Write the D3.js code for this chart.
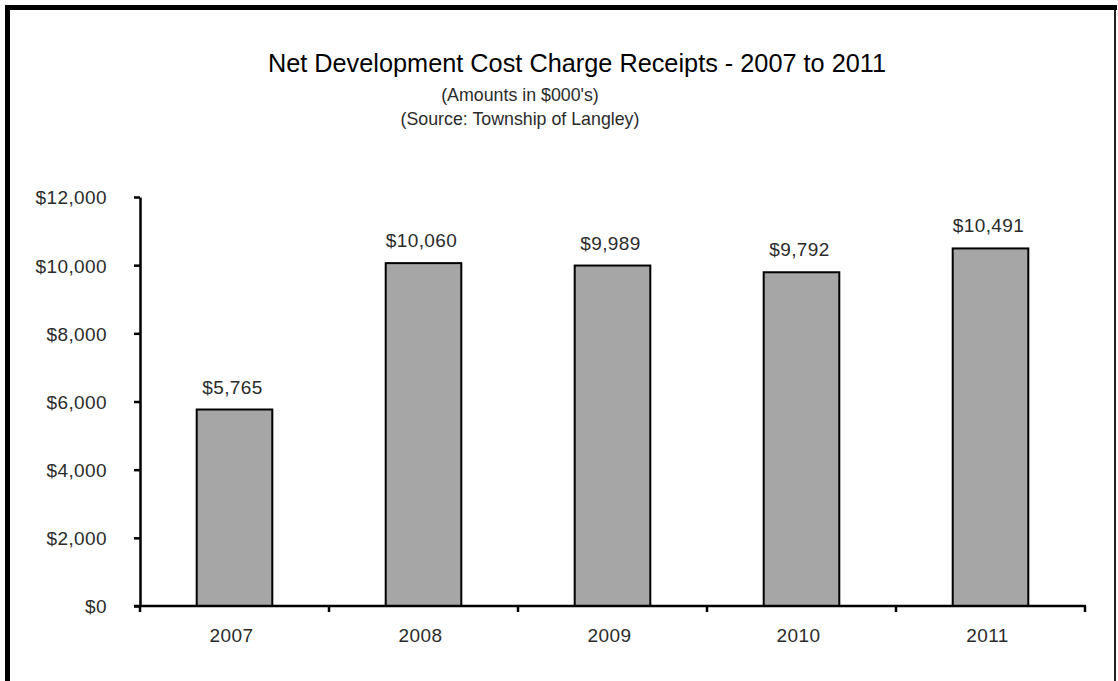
<!DOCTYPE html>
<html>
<head>
<meta charset="utf-8">
<script src="https://cdn.jsdelivr.net/npm/d3@7"></script>
<style>
  html, body { margin: 0; padding: 0; background: #fff; }
  svg { display: block; }
  .lbl { font-family: "Liberation Sans", Arial, sans-serif; fill: #2b2b2b; letter-spacing: 0.4px; }
</style>
</head>
<body>
<svg id="chart" width="1118" height="681"></svg>
<script>
// Net DCC receipts by year, in $000's
const years = ["2007", "2008", "2009", "2010", "2011"];
const receipts = [5765, 10060, 9989, 9792, 10491];
const yTicks = [0, 2000, 4000, 6000, 8000, 10000, 12000];

const titleText = "Net Development Cost Charge Receipts - 2007 to 2011";
const subtitleLines = ["(Amounts in $000's)", "(Source: Township of Langley)"];

const svg = d3.select("#chart");
const W = 1118, H = 681;

// frame: heavy top and left edges, thin right edge
const frame = svg.append("g");
frame.append("line")
  .attr("x1", 5).attr("x2", 1117).attr("y1", 7.5).attr("y2", 7.5)
  .attr("stroke", "#000").attr("stroke-width", 5);
frame.append("line")
  .attr("x1", 7.5).attr("x2", 7.5).attr("y1", 5).attr("y2", H)
  .attr("stroke", "#000").attr("stroke-width", 5);
frame.append("line")
  .attr("x1", 1115).attr("x2", 1115).attr("y1", 10).attr("y2", H)
  .attr("stroke", "#222").attr("stroke-width", 2);

const margin = { left: 140, right: 1085, top: 197, bottom: 606 };

const x = d3.scaleBand()
  .domain(years)
  .range([margin.left, margin.right])
  .paddingInner(0.6).paddingOuter(0.3);

const xOuter = d3.scaleBand()
  .domain(years)
  .range([margin.left, margin.right]);

const y = d3.scaleLinear()
  .domain([0, 12000])
  .range([margin.bottom, margin.top]);

const fmt = d => "$" + d3.format(",")(d);

// title block
svg.append("text")
  .attr("x", 577).attr("y", 72)
  .attr("text-anchor", "middle")
  .style("font-family", "'Liberation Sans', Arial, sans-serif")
  .style("font-size", "25.3px")
  .attr("fill", "#000")
  .text(titleText);

svg.selectAll("text.sub")
  .data(subtitleLines)
  .join("text")
  .attr("class", "sub lbl")
  .attr("x", 520)
  .attr("y", (d, i) => 101 + i * 24)
  .attr("x", 520)
  .attr("text-anchor", "middle")
  .style("font-size", "17.8px")
  .style("letter-spacing", "0px")
  .text(d => d);

// bars
svg.append("g")
  .selectAll("rect")
  .data(receipts)
  .join("rect")
  .attr("x", (d, i) => x(years[i]))
  .attr("y", d => y(d))
  .attr("width", x.bandwidth())
  .attr("height", d => y(0) - y(d))
  .attr("fill", "#a6a6a6")
  .attr("stroke", "#000")
  .attr("stroke-width", 2);

// value labels
svg.append("g")
  .selectAll("text")
  .data(receipts)
  .join("text")
  .attr("class", "lbl")
  .attr("x", (d, i) => x(years[i]) + x.bandwidth() / 2 - 2)
  .attr("y", d => y(d) - 16)
  .attr("text-anchor", "middle")
  .style("font-size", "19px")
  .text(d => fmt(d));

// y axis
const yAxis = svg.append("g")
  .attr("transform", `translate(${margin.left},0)`)
  .call(d3.axisLeft(y).tickValues(yTicks).tickFormat(fmt).tickSize(6).tickPadding(27).tickSizeOuter(0));
yAxis.select(".domain").attr("stroke", "#000").attr("stroke-width", 2.5);
yAxis.selectAll(".tick line").attr("stroke", "#000").attr("stroke-width", 2.5);
yAxis.selectAll(".tick text")
  .attr("class", "lbl")
  .style("font-size", "19px")
  .attr("dy", "0.36em");

// x axis with ticks at category boundaries
const xAxis = svg.append("g")
  .attr("transform", `translate(0,${margin.bottom})`);
xAxis.append("line")
  .attr("x1", margin.left - 6).attr("x2", margin.right + 1)
  .attr("y1", 0).attr("y2", 0)
  .attr("stroke", "#000").attr("stroke-width", 2.5);
const bounds = years.map(d => xOuter(d)).concat([margin.right]);
xAxis.selectAll("line.tk")
  .data(bounds)
  .join("line")
  .attr("class", "tk")
  .attr("x1", d => d).attr("x2", d => d)
  .attr("y1", 0).attr("y2", 6)
  .attr("stroke", "#000").attr("stroke-width", 2.5);
xAxis.selectAll("text")
  .data(years)
  .join("text")
  .attr("class", "lbl")
  .attr("x", d => xOuter(d) + xOuter.bandwidth() / 2 - 3)
  .attr("y", 36)
  .attr("text-anchor", "middle")
  .style("font-size", "19px")
  .text(d => d);
</script>
</body>
</html>
